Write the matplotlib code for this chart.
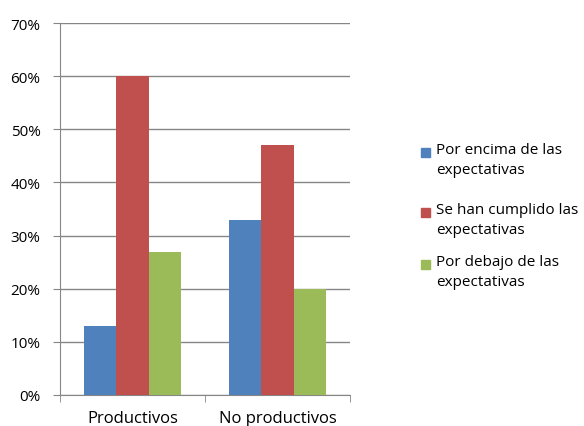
import numpy as np
import matplotlib
matplotlib.use("Agg")
import matplotlib.pyplot as plt
from matplotlib.patches import Rectangle
from matplotlib.ticker import PercentFormatter

categories = ["Productivos", "No productivos"]
series_names = ["Por encima de las\nexpectativas",
                "Se han cumplido las\nexpectativas",
                "Por debajo de las\nexpectativas"]
encima = [13, 33]
cumplido = [60, 47]
debajo = [27, 20]
colors = ["#4F81BD", "#C0504D", "#9BBB59"]

plt.rcParams['font.family'] = ['Open Sans', 'DejaVu Sans']

W, H = 584, 427
fig = plt.figure(figsize=(W / 100, H / 100), dpi=100)
ax = fig.add_axes([60 / W, 31 / H, 290 / W, 372 / H])

x = np.arange(len(categories))
w = 0.224
for i, vals in enumerate([encima, cumplido, debajo]):
    ax.bar(x + (i - 1) * w, vals, width=w, color=colors[i], zorder=3)

ax.set_xlim(-0.5, 1.5)
ax.set_ylim(0, 70)
ax.set_yticks(range(0, 71, 10))
ax.yaxis.set_major_formatter(PercentFormatter(decimals=0))
ax.grid(axis='y', color='#868686', linewidth=1, zorder=0)

ax.set_xticks(x)
ax.set_xticklabels(categories, fontsize=12)
ax.set_xticks([-0.5, 0.5, 1.5], minor=True)
ax.tick_params(axis='x', which='major', length=0, pad=11)
ax.tick_params(axis='x', which='minor', length=5, color='#868686')
ax.tick_params(axis='y', length=5, color='#868686', labelsize=11, pad=9)

for s in ['top', 'right']:
    ax.spines[s].set_visible(False)
ax.spines['left'].set_color('#868686')
ax.spines['bottom'].set_color('#868686')

# legend, square next to the first line of each label
legend_tops = [149, 209, 261]
for name, c, top in zip(series_names, colors, legend_tops):
    fig.patches.append(Rectangle((421 / W, 1 - (top + 9) / H), 9 / W, 9 / H,
                                 color=c, transform=fig.transFigure, figure=fig))
    fig.text(436 / W, 1 - (top - 6) / H, name, fontsize=11, va='top',
             ha='left', linespacing=1.45)

fig.savefig("out.png", dpi=100)
